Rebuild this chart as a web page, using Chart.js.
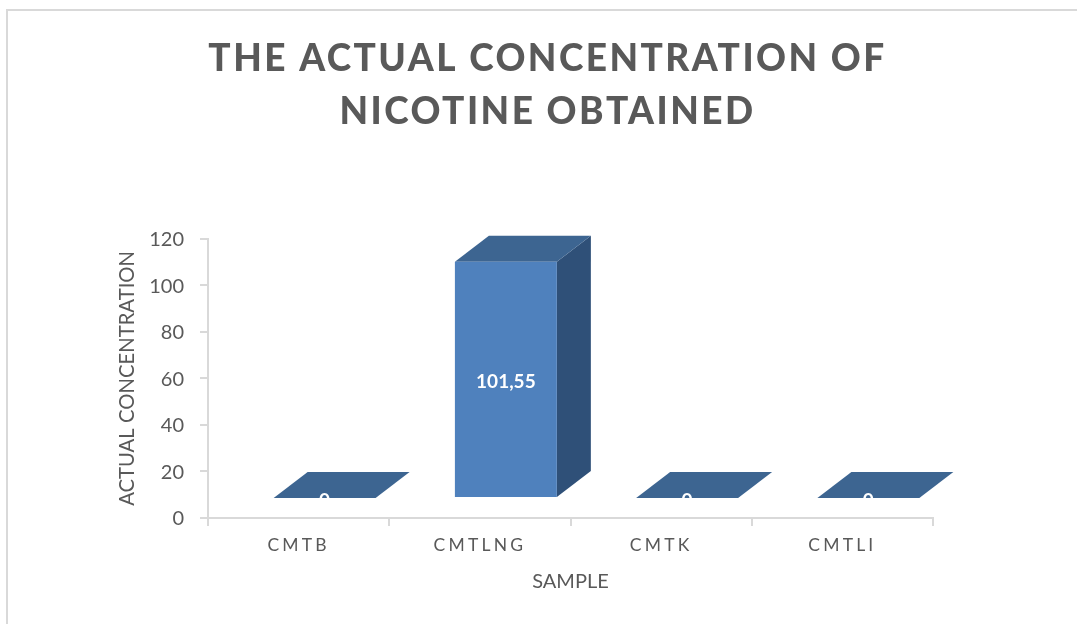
<!DOCTYPE html>
<html>
<head>
<meta charset="utf-8">
<script src="https://cdn.jsdelivr.net/npm/chart.js@4"></script>
<style>
html,body{margin:0;padding:0;background:#fff;overflow:hidden}
#frame{position:absolute;left:6px;top:9px;width:1071px;height:615px;box-sizing:border-box;border-left:2px solid #d9d9d9;border-top:2px solid #d9d9d9}
canvas{position:absolute;left:0;top:0}
</style>
</head>
<body>
<div id="frame"></div>
<canvas id="c" width="1077" height="624"></canvas>
<script>
const titleLines = ['THE ACTUAL CONCENTRATION OF', 'NICOTINE OBTAINED'];
const categories = ['CMTB', 'CMTLNG', 'CMTK', 'CMTLI'];
const values = [0, 101.55, 0, 0];
const valueLabels = ['0', '101,55', '0', '0'];
const xTitle = 'SAMPLE';
const yTitle = 'ACTUAL CONCENTRATION';

const FONT = 'Lato, sans-serif';
const TEXT = '#595959';
const AXIS = '#d9d9d9';
const FRONT = '#4f81bd';
const TOP = '#3d6591';
const SIDE = '#2f5078';
const SHIFT = {x: 26, y: -20};
const DEPTH = {x: 34, y: -26};

const box3d = {
  id: 'box3d',
  beforeDraw(chart) {
    if (chart.$wrapped) return;
    chart.$wrapped = true;
    const ctx = chart.ctx;
    const xs = chart.scales.x, tb = chart.titleBlock;
    const drawLabels = xs.drawLabels;
    xs.drawLabels = function (a) {
      ctx.letterSpacing = '3.2px';
      drawLabels.call(this, a);
      ctx.letterSpacing = '0px';
    };
    const drawTitle = tb.draw;
    tb.draw = function () {
      ctx.save();
      ctx.translate(81, 0);
      ctx.letterSpacing = '2.45px';
      drawTitle.call(this);
      ctx.letterSpacing = '0px';
      ctx.restore();
    };
  },
  beforeDatasetDraw(chart, args) {
    const ctx = chart.ctx;
    ctx.save();
    ctx.translate(SHIFT.x, SHIFT.y);
    args.meta.data.forEach(el => {
      const w = el.width / 2;
      const l = el.x - w, r = el.x + w, t = el.y, b = el.base;
      ctx.fillStyle = SIDE;
      ctx.beginPath();
      ctx.moveTo(r, t);
      ctx.lineTo(r + DEPTH.x, t + DEPTH.y);
      ctx.lineTo(r + DEPTH.x, b + DEPTH.y);
      ctx.lineTo(r, b);
      ctx.closePath();
      ctx.fill();
      ctx.fillStyle = TOP;
      ctx.beginPath();
      ctx.moveTo(l, t);
      ctx.lineTo(l + DEPTH.x, t + DEPTH.y);
      ctx.lineTo(r + DEPTH.x, t + DEPTH.y);
      ctx.lineTo(r, t);
      ctx.closePath();
      ctx.fill();
    });
  },
  afterDatasetDraw(chart, args) {
    const ctx = chart.ctx;
    ctx.fillStyle = '#ffffff';
    ctx.font = 'bold 19px ' + FONT;
    ctx.textAlign = 'center';
    ctx.textBaseline = 'middle';
    args.meta.data.forEach((el, i) => {
      ctx.fillText(valueLabels[i], el.x, (el.y + el.base) / 2 + 3);
    });
    ctx.restore();
  }
};

new Chart(document.getElementById('c'), {
  type: 'bar',
  data: {
    labels: categories,
    datasets: [{
      data: values,
      backgroundColor: FRONT,
      borderWidth: 0,
      categoryPercentage: 1,
      barPercentage: 0.5625
    }]
  },
  plugins: [box3d],
  options: {
    responsive: false,
    animation: false,
    devicePixelRatio: 1,
    layout: {padding: {left: 0, right: 144, top: 33, bottom: 0}},
    plugins: {
      legend: {display: false},
      tooltip: {enabled: false},
      title: {
        display: true,
        text: titleLines,
        color: TEXT,
        font: {family: FONT, size: 37, weight: '900', lineHeight: 1.43},
        padding: {top: 0, bottom: 100}
      }
    },
    scales: {
      x: {
        afterFit(s) { s.height = 106; },
        grid: {drawOnChartArea: false, drawTicks: true, tickLength: 8, color: AXIS, lineWidth: 2},
        border: {color: AXIS, width: 2},
        ticks: {color: TEXT, font: {family: FONT, size: 17.5}, padding: 9, maxRotation: 0},
        title: {display: true, text: xTitle, color: TEXT, font: {family: FONT, size: 20}, padding: {top: 0, bottom: 30}}
      },
      y: {
        min: 0,
        max: 120,
        afterFit(s) { s.width = 208; },
        grid: {drawOnChartArea: false, drawTicks: true, tickLength: 8, color: AXIS, lineWidth: 2},
        border: {color: AXIS, width: 2},
        ticks: {stepSize: 20, color: TEXT, font: {family: FONT, size: 20}, padding: 16, labelOffset: 1},
        title: {display: true, text: yTitle, color: TEXT, font: {family: FONT, size: 20.3}, padding: {top: 115, bottom: 0}}
      }
    }
  }
});
</script>
</body>
</html>
